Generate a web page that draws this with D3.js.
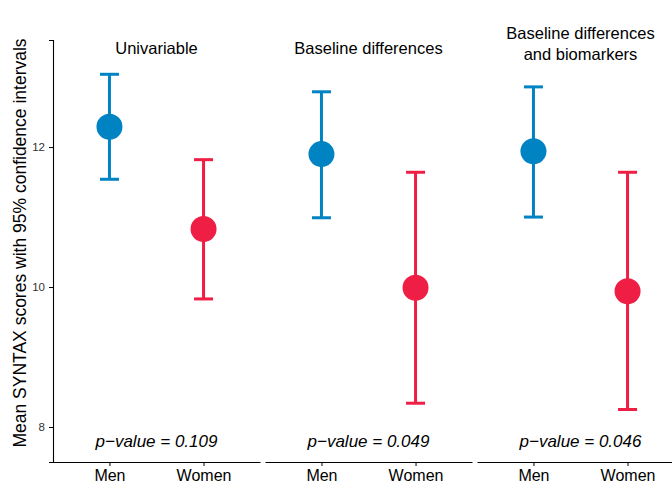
<!DOCTYPE html>
<html>
<head>
<meta charset="utf-8">
<script src="https://cdn.jsdelivr.net/npm/d3@7"></script>
<style>
  body { margin: 0; background: #fff; }
  svg { display: block; font-family: "Liberation Sans", Arial, sans-serif; }
</style>
</head>
<body>
<svg id="chart" width="672" height="488"></svg>
<script>
// Facets (model adjustment) and groups
const models = ["Univariable", "Baseline differences", "Baseline differences\nand biomarkers"];
const sexes = ["Men", "Women"];

// Mean SYNTAX score and 95% CI per model, in the order of `sexes`
const means = [[12.29, 10.83], [11.90, 9.99], [11.94, 9.94]];
const lower = [[11.54, 9.83], [10.99, 8.34], [11.00, 8.25]];
const upper = [[13.04, 11.82], [12.79, 11.64], [12.86, 11.64]];
const pValues = ["0.109", "0.049", "0.046"];

const yTicks = [8, 10, 12];
const colors = { Men: "#0083C3", Women: "#EE1E44" };

const svg = d3.select("#chart");

const plotTop = 40, plotBottom = 462;
const plotLeft = 53, panelW = 207, panelGap = 5;

const y = d3.scaleLinear().domain([7.5, 13.53]).range([plotBottom, plotTop]);

// y axis (left panel only)
const yAxis = svg.append("g")
  .attr("transform", `translate(${plotLeft},0)`)
  .call(d3.axisLeft(y).tickValues(yTicks).tickFormat(d3.format("d")).tickSize(4).tickPadding(4));
yAxis.select(".domain").attr("stroke", "#000").attr("stroke-width", 1.1);
yAxis.selectAll(".tick line").attr("stroke", "#000");
yAxis.selectAll(".tick text").attr("font-size", 11.5).attr("fill", "#333")
  .attr("font-family", "Liberation Sans, Arial, sans-serif");

svg.append("text")
  .attr("transform", `translate(26,243) rotate(-90)`)
  .attr("text-anchor", "middle")
  .attr("font-size", 17.5)
  .attr("fill", "#000")
  .text("Mean SYNTAX scores with 95% confidence intervals");

models.forEach((model, i) => {
  const x0 = plotLeft + i * (panelW + panelGap);
  const x = d3.scalePoint().domain(sexes).range([x0, x0 + panelW]).padding(0.6);

  // x axis
  const xAxis = svg.append("g")
    .attr("transform", `translate(0,${plotBottom})`)
    .call(d3.axisBottom(x).tickSize(4).tickPadding(4).tickSizeOuter(0));
  xAxis.select(".domain").attr("stroke", "#000").attr("stroke-width", 1.1);
  xAxis.selectAll(".tick line").attr("stroke", "#000");
  xAxis.selectAll(".tick text").attr("font-size", 16).attr("fill", "#000")
    .attr("font-family", "Liberation Sans, Arial, sans-serif");

  // facet title
  const lines = model.split("\n");
  const title = svg.append("text")
    .attr("text-anchor", "middle")
    .attr("font-size", 16.5)
    .attr("fill", "#000");
  lines.forEach((ln, k) => {
    title.append("tspan")
      .attr("x", x0 + panelW / 2)
      .attr("y", lines.length === 1 ? 54 : 39 + k * 21)
      .text(ln);
  });

  // error bars and points
  const cap = 9.5;
  sexes.forEach((s, j) => {
    const cx = x(s);
    const g = svg.append("g").attr("stroke", colors[s]).attr("stroke-width", 3);
    g.append("line").attr("x1", cx).attr("x2", cx)
      .attr("y1", y(lower[i][j])).attr("y2", y(upper[i][j]));
    g.append("line").attr("x1", cx - cap).attr("x2", cx + cap)
      .attr("y1", y(upper[i][j])).attr("y2", y(upper[i][j]));
    g.append("line").attr("x1", cx - cap).attr("x2", cx + cap)
      .attr("y1", y(lower[i][j])).attr("y2", y(lower[i][j]));
    svg.append("circle")
      .attr("cx", cx).attr("cy", y(means[i][j]))
      .attr("r", 13)
      .attr("fill", colors[s]);
  });

  // p-value annotation
  svg.append("text")
    .attr("x", x0 + panelW / 2)
    .attr("y", 447)
    .attr("text-anchor", "middle")
    .attr("font-size", 17)
    .attr("font-style", "italic")
    .attr("fill", "#000")
    .text(`p\u2212value = ${pValues[i]}`);
});
</script>
</body>
</html>
